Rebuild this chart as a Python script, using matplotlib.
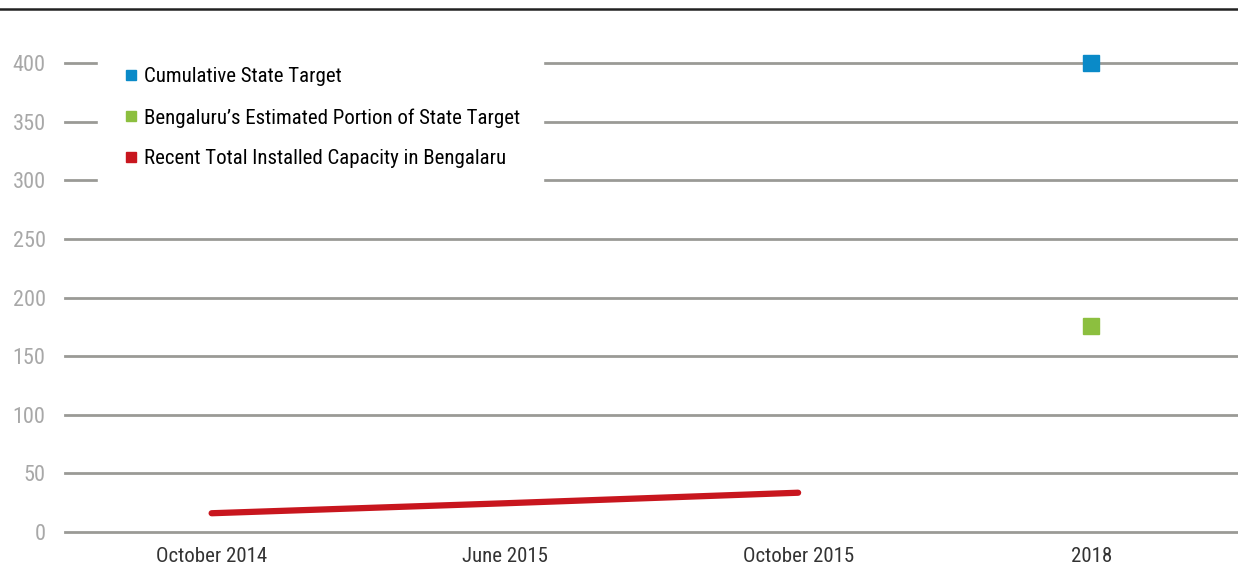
import matplotlib
matplotlib.use('Agg')
import matplotlib.pyplot as plt
from matplotlib.lines import Line2D
from matplotlib import font_manager

# data
categories = ['October 2014', 'June 2015', 'October 2015', '2018']
installed = [16, 24.5, 33.5]          # red line, first three categories
state_target = [400]                  # blue, 2018
bengaluru_share = [176]               # green, 2018
yticks = [0, 50, 100, 150, 200, 250, 300, 350, 400]

# the original uses a condensed grotesque; take the first narrow face we have
have = set(f.name for f in font_manager.fontManager.ttflist)
fam = 'Liberation Sans'
for cand in ['Roboto Condensed', 'Archivo Narrow', 'Liberation Sans Narrow', 'Barlow Condensed']:
    if cand in have:
        fam = cand
        break
plt.rcParams['font.family'] = [fam, 'DejaVu Sans']
fs = 15 if fam != 'Liberation Sans' else 13

fig = plt.figure(figsize=(12.38, 5.71), dpi=100)
ax = fig.add_axes([65/1238, 39/571, 1 - 65/1238, 469/571])

for y in yticks:
    ax.axhline(y, color='#9a9a96', lw=2, zorder=1, clip_on=False)

x = list(range(len(categories)))
ax.plot(x[:3], installed, color='#c8161e', lw=4.5, solid_capstyle='round', zorder=3)
ax.plot([x[3]], state_target, 's', color='#0a8ac8', ms=11, clip_on=False, zorder=4)
ax.plot([x[3]], bengaluru_share, 's', color='#8cbf3f', ms=11, clip_on=False, zorder=4)

ax.set_xlim(-0.5, 3.5)
ax.set_ylim(0, 400)
ax.set_xticks(x)
ax.set_xticklabels(categories, fontsize=fs, color='#333333')
ax.set_yticks(yticks)
ax.set_yticklabels([str(v) for v in yticks], fontsize=fs + 1, color='#a8a8a8')
ax.tick_params(length=0, axis='y', pad=14)
ax.tick_params(length=0, axis='x', pad=11)
for s in ax.spines.values():
    s.set_visible(False)

handles = [Line2D([], [], marker='s', ls='', color='#0a8ac8', ms=6.5),
           Line2D([], [], marker='s', ls='', color='#8cbf3f', ms=6.5),
           Line2D([], [], marker='s', ls='', color='#c8161e', ms=6.5)]
labels = ['Cumulative State Target',
          "Bengaluru\u2019s Estimated Portion of State Target",
          'Recent Total Installed Capacity in Bengalaru']
leg = ax.legend(handles, labels, loc='upper left', bbox_to_anchor=(0.028, 1.04),
                prop={'family': [fam, 'DejaVu Sans'], 'size': fs},
                frameon=True, framealpha=1, edgecolor='white',
                handletextpad=0.1, handlelength=1.0, labelspacing=1.05,
                borderpad=1.1, borderaxespad=0)
leg.set_zorder(5)

fig.add_artist(Line2D([0, 1], [1 - 9/571, 1 - 9/571], color='#222222', lw=1.8))

fig.savefig('out.png')
